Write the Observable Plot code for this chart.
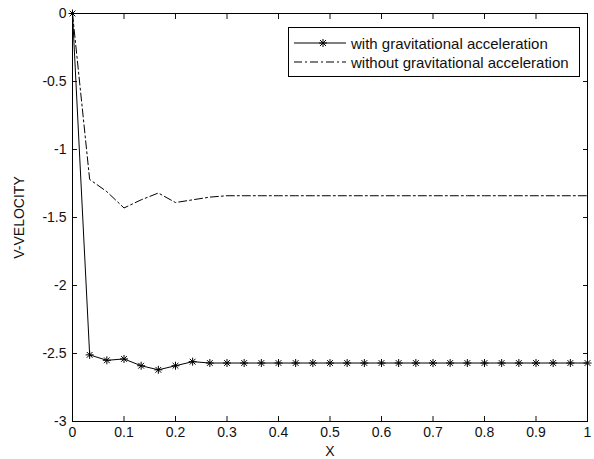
<!DOCTYPE html>
<html>
<head>
<meta charset="utf-8">
<script src="https://cdn.jsdelivr.net/npm/d3@7"></script>
<script src="https://cdn.jsdelivr.net/npm/@observablehq/plot@0.6"></script>
<style>
  html, body { margin: 0; padding: 0; background: #fff; }
  #wrap { position: relative; width: 594px; height: 459px; font-family: "Liberation Sans", Arial, sans-serif; }
  #legend { position: absolute; left: 288px; top: 27px; width: 290px; height: 48px; border: 1px solid #000; background: #fff; font-size: 15px; color: #111; }
  #legend .row { position: absolute; left: 0; height: 18px; display: flex; align-items: center; white-space: nowrap; }
  #legend svg { display: block; margin-left: 4px; margin-right: 4px; }
</style>
</head>
<body>
<div id="wrap">
  <div id="chart"></div>
  <div id="legend">
    <div class="row" style="top:6px">
      <svg width="54" height="14"><line x1="1" y1="7" x2="53" y2="7" stroke="#000" stroke-width="1"/><g transform="translate(30,7)" stroke="#000" stroke-width="1"><line x1="-4" y1="0" x2="4" y2="0"/><line x1="0" y1="-4" x2="0" y2="4"/><line x1="-3" y1="-3" x2="3" y2="3"/><line x1="-3" y1="3" x2="3" y2="-3"/></g></svg>
      <span>with gravitational acceleration</span>
    </div>
    <div class="row" style="top:25px">
      <svg width="54" height="14"><line x1="1" y1="7" x2="53" y2="7" stroke="#000" stroke-width="1" stroke-dasharray="8,3,2,3"/></svg>
      <span>without gravitational acceleration</span>
    </div>
  </div>
</div>
<script>
// ---- data ----
const xValues = [0, 0.0333, 0.0667, 0.1, 0.1333, 0.1667, 0.2, 0.2333, 0.2667, 0.3, 0.3333, 0.3667, 0.4, 0.4333, 0.4667, 0.5, 0.5333, 0.5667, 0.6, 0.6333, 0.6667, 0.7, 0.7333, 0.7667, 0.8, 0.8333, 0.8667, 0.9, 0.9333, 0.9667, 1];
const withGravity = [0, -2.51, -2.55, -2.54, -2.59, -2.62, -2.59, -2.56, -2.57, -2.57, -2.57, -2.57, -2.57, -2.57, -2.57, -2.57, -2.57, -2.57, -2.57, -2.57, -2.57, -2.57, -2.57, -2.57, -2.57, -2.57, -2.57, -2.57, -2.57, -2.57, -2.57];
const withoutGravity = [0, -1.22, -1.31, -1.43, -1.37, -1.32, -1.39, -1.37, -1.35, -1.34, -1.34, -1.34, -1.34, -1.34, -1.34, -1.34, -1.34, -1.34, -1.34, -1.34, -1.34, -1.34, -1.34, -1.34, -1.34, -1.34, -1.34, -1.34, -1.34, -1.34, -1.34];
const xTicks = [0, 0.1, 0.2, 0.3, 0.4, 0.5, 0.6, 0.7, 0.8, 0.9, 1];
const xTickLabels = ["0", "0.1", "0.2", "0.3", "0.4", "0.5", "0.6", "0.7", "0.8", "0.9", "1"];
const yTicks = [0, -0.5, -1, -1.5, -2, -2.5, -3];
const yTickLabels = ["0", "-0.5", "-1", "-1.5", "-2", "-2.5", "-3"];

const seriesWith = xValues.map((x, i) => ({x, y: withGravity[i]}));
const seriesWithout = xValues.map((x, i) => ({x, y: withoutGravity[i]}));

// MATLAB-like asterisk marker
const asterisk = {
  draw(context, size) {
    const r = Math.sqrt(size / Math.PI);
    const d = r * 0.72;
    context.moveTo(-r, 0); context.lineTo(r, 0);
    context.moveTo(0, -r); context.lineTo(0, r);
    context.moveTo(-d, -d); context.lineTo(d, d);
    context.moveTo(-d, d); context.lineTo(d, -d);
  }
};

const chart = Plot.plot({
  width: 594,
  height: 459,
  marginLeft: 72,
  marginRight: 7,
  marginTop: 13,
  marginBottom: 38,
  style: {fontFamily: "'Liberation Sans', Arial, sans-serif", fontSize: "14px", color: "#111", background: "#fff"},
  x: {domain: [0, 1]},
  y: {domain: [-3, 0]},
  marks: [
    Plot.axisX({ticks: xTicks, tickSize: -5, tickPadding: 11, tickFormat: (d) => xTickLabels[xTicks.indexOf(d)], label: "X", labelAnchor: "center", labelArrow: "none", labelOffset: 34, fontSize: 14}),
    Plot.axisX({anchor: "top", ticks: xTicks, tickSize: -5, tickFormat: () => "", label: null}),
    Plot.axisY({ticks: yTicks, tickSize: -5, tickPadding: 11, tickFormat: (d) => yTickLabels[yTicks.indexOf(d)], label: "V-VELOCITY", labelAnchor: "center", labelArrow: "none", labelOffset: 58, fontSize: 14}),
    Plot.axisY({anchor: "right", ticks: yTicks, tickSize: -5, tickFormat: () => "", label: null}),
    Plot.frame({stroke: "#000"}),
    Plot.line(seriesWithout, {x: "x", y: "y", stroke: "#000", strokeWidth: 1, strokeDasharray: "8,3,2,3"}),
    Plot.line(seriesWith, {x: "x", y: "y", stroke: "#000", strokeWidth: 1}),
    Plot.dot(seriesWith, {x: "x", y: "y", symbol: asterisk, r: 4, stroke: "#000", strokeWidth: 1, fill: "none"})
  ]
});
document.getElementById("chart").appendChild(chart);
</script>
</body>
</html>
